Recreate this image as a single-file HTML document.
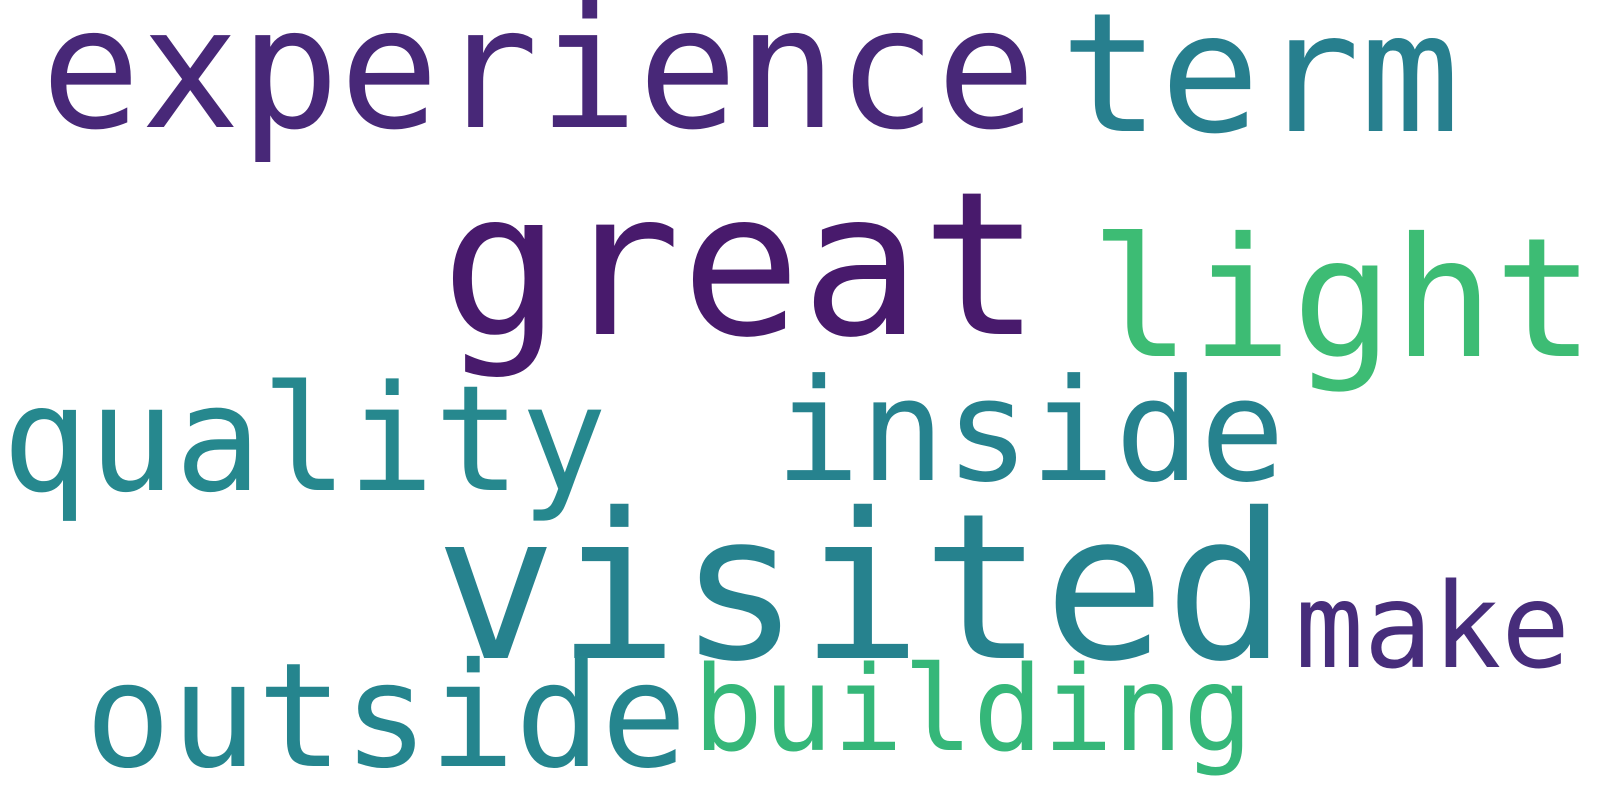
<!DOCTYPE html>
<html><head><meta charset="utf-8"><style>
html,body{margin:0;padding:0;background:#fff;}
svg{display:block;}
text{font-family:"DejaVu Sans Mono","Liberation Mono",monospace;}
</style></head><body>
<svg width="1600" height="800" viewBox="0 0 1600 800">
<rect width="1600" height="800" fill="#fff"/>
<g id="words"></g>
</svg>
<script>
const words = ["experience","term","great","light","quality","inside","visited","make","outside","building"];
const sizes = [168,166,200,166,147,142,203,118,145,118];
const colors = ["#482878","#277f8e","#481a6c","#3dbc74","#26888e","#26828e","#26828e","#472d7b","#25858e","#35b779"];
const xs = [41,1060,441,1090,2,775,435,1295,85,693];
const ys = [127,131,334,356,490,480,658,667,766,750];
const spans = [995,400,600,505,605,510,852,275,602,560];
const g = document.getElementById('words');
words.forEach((w,i)=>{
  const t = document.createElementNS('http://www.w3.org/2000/svg','text');
  t.setAttribute('x', xs[i]);
  t.setAttribute('y', ys[i]);
  t.setAttribute('font-size', sizes[i]);
  t.setAttribute('fill', colors[i]);
  t.setAttribute('textLength', spans[i]);
  t.setAttribute('lengthAdjust', 'spacingAndGlyphs');
  t.textContent = w;
  
  
  g.appendChild(t);
});
</script>
</body></html>
